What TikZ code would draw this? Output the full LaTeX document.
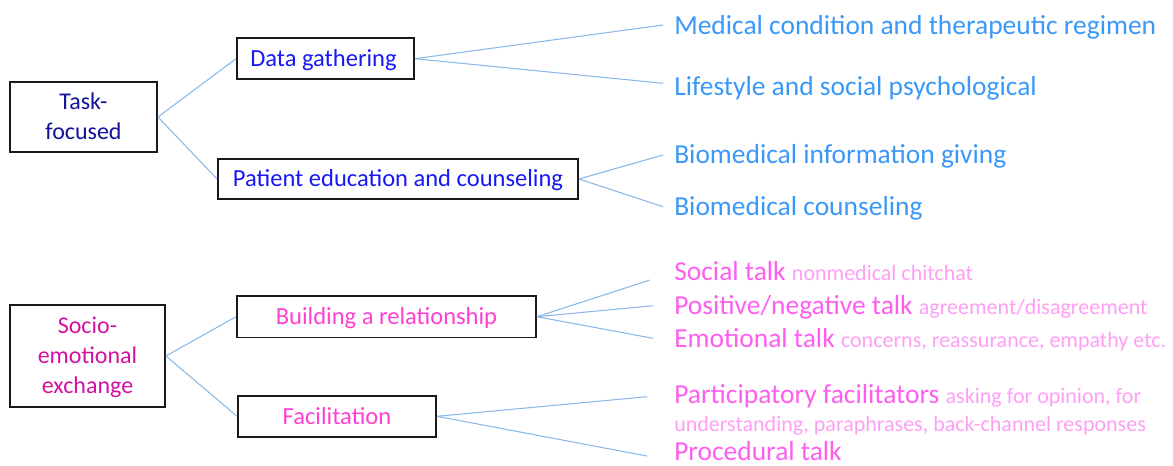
\documentclass[tikz,border=0pt]{standalone}
\usepackage{fontspec}
\setmainfont{Carlito}
\definecolor{taskblue}{HTML}{12129A}
\definecolor{dgblue}{HTML}{1818F5}
\definecolor{rblue}{HTML}{3A98F8}
\definecolor{socmag}{HTML}{D4119E}
\definecolor{brpink}{HTML}{FF3FD2}
\definecolor{bigpink}{HTML}{FF5DF0}
\definecolor{litepink}{HTML}{FF9EF5}
\definecolor{conn}{HTML}{8BB8E6}
\definecolor{boxline}{HTML}{1A1A1A}
\newcommand\litetxt[1]{{\fontsize{16.5pt}{20pt}\selectfont\color{litepink}#1}}
\begin{document}
\begin{tikzpicture}[x=0.75pt,y=-0.75pt,
  boxnode/.style={draw=boxline, line width=1.4pt, inner sep=0pt, align=center,
    font=\fontsize{18.4pt}{22.5pt}\selectfont, text height=11.6pt, text depth=0pt},
  connline/.style={draw=conn, line width=0.8pt},
  rtext/.style={anchor=base west, inner sep=0pt, font=\fontsize{20.6pt}{24pt}\selectfont}
]
\useasboundingbox (0,0) rectangle (1173,465);

% left boxes
\node[boxnode, minimum width=110.25pt, minimum height=52.5pt, text=taskblue,
  font=\fontsize{18pt}{22.5pt}\selectfont, text height=33.9pt, text depth=0pt]
  (task) at (83.5,117) {Task-\\focused};
\node[boxnode, minimum width=116.25pt, minimum height=76.5pt, text=socmag,
  font=\fontsize{18pt}{22.5pt}\selectfont, text height=56.4pt, text depth=0pt]
  (socio) at (87.5,356) {Socio-\\emotional\\exchange};

% middle boxes
\node[boxnode, minimum width=132.75pt, minimum height=30.75pt, text=dgblue] (dg) at (325.5,58.7) {Data gathering\,};
\node[boxnode, minimum width=270pt, minimum height=30.2pt, text=dgblue] (pe) at (398,179) {Patient education and counseling};
\node[boxnode, minimum width=224.25pt, minimum height=31.1pt, text=brpink] (br) at (386.5,316.7) {Building a relationship};
\node[boxnode, minimum width=148.5pt, minimum height=30.5pt, text=brpink] (fa) at (337,416.3) {Facilitation};

% connector end points
\coordinate (dg1) at (663,25);
\coordinate (dg2) at (663,83.3);
\coordinate (pe1) at (663,155);
\coordinate (pe2) at (663,206.7);
\coordinate (br1) at (650,280);
\coordinate (br2) at (653,305.7);
\coordinate (br3) at (653,338.3);
\coordinate (fa1) at (647,396.7);
\coordinate (fa2) at (647,456);

% connectors
\draw[connline] (task.east) -- (dg.west);
\draw[connline] (task.east) -- (pe.west);
\draw[connline] (socio.east) -- (br.west);
\draw[connline] (socio.east) -- (fa.west);
\draw[connline] (dg.east) -- (dg1);
\draw[connline] (dg.east) -- (dg2);
\draw[connline] (pe.east) -- (pe1);
\draw[connline] (pe.east) -- (pe2);
\draw[connline] (br.east) -- (br1);
\draw[connline] (br.east) -- (br2);
\draw[connline] (br.east) -- (br3);
\draw[connline] (fa.east) -- (fa1);
\draw[connline] (fa.east) -- (fa2);

% right texts, top
\node[rtext, text=rblue] (t1) at (674,34.4) {Medical condition and therapeutic regimen};
\node[rtext, text=rblue] (t2) at (674,95) {Lifestyle and social psychological};
\node[rtext, text=rblue] (t3) at (674,163.5) {Biomedical information giving};
\node[rtext, text=rblue] (t4) at (674,215.2) {Biomedical counseling};

% right texts, bottom
\node[rtext, text=bigpink] (s1) at (674,280.8) {Social talk \litetxt{nonmedical chitchat}};
\node[rtext, text=bigpink] (s2) at (674,314.2) {Positive/negative talk \litetxt{agreement/disagreement}};
\node[rtext, text=bigpink] (s3) at (674,347.2) {Emotional talk \litetxt{concerns, reassurance, empathy etc.}};
\node[rtext, text=bigpink] (f1) at (674,403.2) {Participatory facilitators \litetxt{asking for opinion, for}};
\node[rtext, text=bigpink] (f2) at (674,431.8) {\litetxt{understanding, paraphrases, back-channel responses}};
\node[rtext, text=bigpink] (f3) at (674,460.5) {Procedural talk};
\end{tikzpicture}
\end{document}
